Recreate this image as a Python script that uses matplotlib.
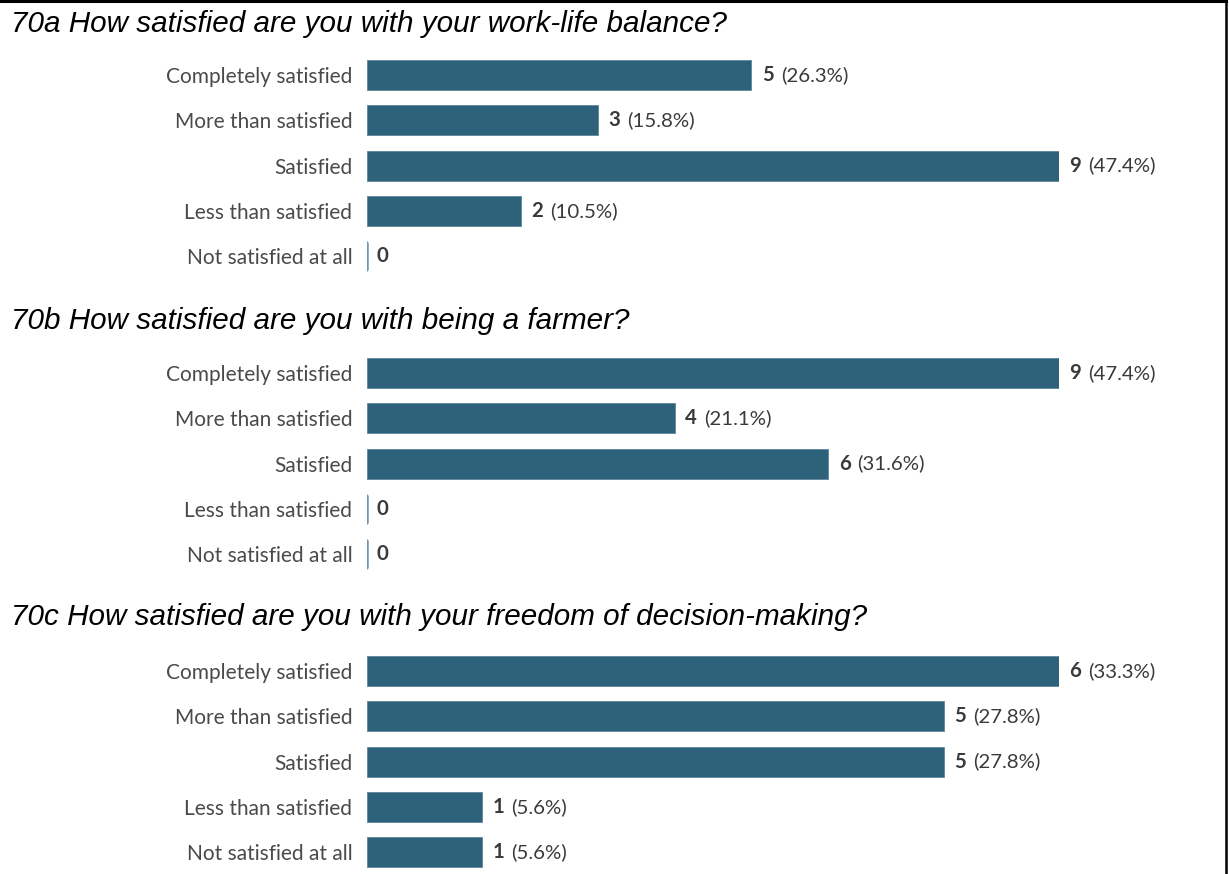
import matplotlib
matplotlib.use("Agg")
import matplotlib.pyplot as plt
from matplotlib.lines import Line2D

# Survey responses
categories = ["Completely satisfied", "More than satisfied", "Satisfied",
              "Less than satisfied", "Not satisfied at all"]

titles = [
    "70a How satisfied are you with your work-life balance?",
    "70b How satisfied are you with being a farmer?",
    "70c How satisfied are you with your freedom of decision-making?",
]

counts_work_life = [5, 3, 9, 2, 0]
pcts_work_life = ["26.3%", "15.8%", "47.4%", "10.5%", ""]

counts_farmer = [9, 4, 6, 0, 0]
pcts_farmer = ["47.4%", "21.1%", "31.6%", "", ""]

counts_decision = [6, 5, 5, 1, 1]
pcts_decision = ["33.3%", "27.8%", "27.8%", "5.6%", "5.6%"]

panels = [
    (counts_work_life, pcts_work_life),
    (counts_farmer, pcts_farmer),
    (counts_decision, pcts_decision),
]

W, H = 1229, 874
BAR_COLOR = "#2e627a"
ZERO_COLOR = "#6d98ae"
LABEL_COLOR = "#4a4a4a"
VALUE_COLOR = "#3a3a3a"
LABEL_SIZE = 15
VALUE_SIZE = 14.7
TITLE_SIZE = 21.3

fig = plt.figure(figsize=(W / 100, H / 100), dpi=100)
fig.patch.set_facecolor("white")

# panel geometry in pixels (first row centre, row pitch)
row_pitch = 45.3
first_rows = [75, 373, 671]
title_y = [24, 321, 617]
ax_left, ax_width = 367, 692


def fx(px):
    return px / W


def fy(py):
    return 1 - py / H


for (counts, pcts), title, r0, ty in zip(panels, titles, first_rows, title_y):
    top = r0 - row_pitch / 2
    height = row_pitch * len(categories)
    ax = fig.add_axes([fx(ax_left), fy(top + height), ax_width / W, height / H])
    n = len(categories)
    ypos = list(range(n))
    vmax = max(counts)
    ax.barh(ypos, counts, height=0.66, color=BAR_COLOR, edgecolor="#5d879a",
            linewidth=0.6)
    for y, c in zip(ypos, counts):
        if c == 0:
            ax.vlines(c, y - 0.31, y + 0.31, color=ZERO_COLOR, linewidth=1.8)
    ax.set_xlim(0, vmax)
    ax.set_ylim(n - 0.5, -0.5)
    ax.set_yticks(ypos)
    ax.set_yticklabels(categories, fontfamily="Lato", fontsize=LABEL_SIZE,
                       color=LABEL_COLOR)
    ax.tick_params(axis="y", length=0, pad=10.5)
    ax.set_xticks([])
    for s in ax.spines.values():
        s.set_visible(False)
    ax.patch.set_alpha(0)

    for y, c, p in zip(ypos, counts, pcts):
        t = ax.annotate(str(c), xy=(c, y), xytext=(7.5 if c else 6.5, 0),
                        textcoords="offset points", va="center", ha="left",
                        fontfamily="Lato", fontweight="bold",
                        fontsize=VALUE_SIZE, color=VALUE_COLOR,
                        annotation_clip=False)
        if p:
            ax.annotate(f"({p})", xy=(1, 0.5), xycoords=t,
                        xytext=(5, 0), textcoords="offset points",
                        va="center", ha="left", fontfamily="Lato",
                        fontsize=VALUE_SIZE, color=VALUE_COLOR)

    fig.text(fx(11), fy(ty), title, fontfamily="Liberation Sans",
             fontstyle="italic", fontsize=TITLE_SIZE, color="black",
             va="center", ha="left")

# frame lines along the top and right edges
fig.add_artist(Line2D([0, fx(1226)], [fy(1), fy(1)], color="black",
                      linewidth=2.2, transform=fig.transFigure))
fig.add_artist(Line2D([fx(1226), fx(1226)], [fy(0), 0], color="black",
                      linewidth=1.8, transform=fig.transFigure))

fig.savefig("out.png", dpi=100, facecolor="white")
